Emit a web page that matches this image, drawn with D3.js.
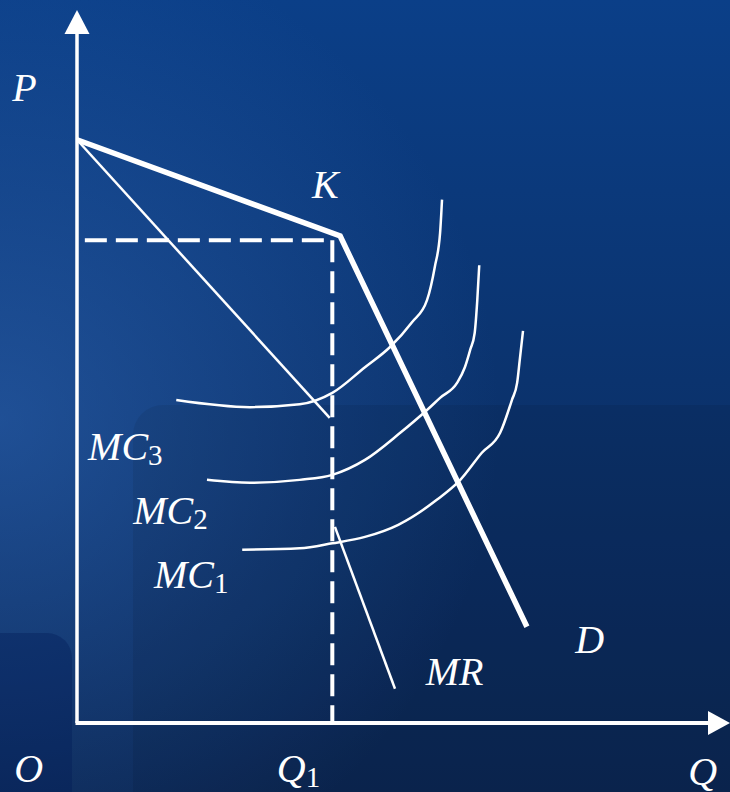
<!DOCTYPE html>
<html>
<head>
<meta charset="utf-8">
<script src="https://cdn.jsdelivr.net/npm/d3@7"></script>
<style>
    body { margin: 0; padding: 0; background: #0b3d85; overflow: hidden; }
    #chart-area { width: 730px; height: 792px; }
</style>
</head>
<body>
<div id="chart-area"></div>
<script>

// demand curve (kinked at K), quantity / price in chart units 0-100
let demandQ = [0, 40.3, 68.9];
let demandP = [81.8, 68.3, 13.5];

// marginal revenue: upper piece and lower piece (gap at Q1)
let mrUpperQ = [0, 38.7];
let mrUpperP = [81.8, 42.8];
let mrLowerQ = [39.5, 48.7];
let mrLowerP = [27.5, 4.8];

// equilibrium
let q1 = 39.1;
let p1 = 67.7;

// marginal cost curves
let mc3Q = [15.2, 26.5, 34.1, 39.1, 44.1, 47.9, 51.3, 53.6, 54.8, 55.6, 55.9];
let mc3P = [45.3, 44.3, 44.7, 46.3, 49.9, 52.7, 56.2, 59.3, 64.0, 68.7, 73.4];

let mc2Q = [19.9, 26.5, 34.1, 39.1, 44.1, 49.5, 53.6, 55.6, 58.2, 59.4, 60.2, 60.9, 61.3, 61.6];
let mc2P = [34.1, 33.7, 34.1, 34.8, 36.9, 40.7, 43.9, 45.6, 47.7, 49.9, 52.3, 54.7, 59.3, 64.2];

let mc1Q = [25.3, 34.1, 39.1, 44.1, 49.2, 55.1, 58.7, 62.0, 64.8, 66.6, 67.4, 67.8, 68.3];
let mc1P = [24.3, 24.5, 25.2, 26.1, 27.8, 31.3, 34.1, 37.9, 40.7, 45.3, 47.7, 50.9, 55.0];

// labels
let labelText = ["P", "K", "MC", "MC", "MC", "D", "MR", "O", "Q", "Q"];
let labelSub = ["", "", "3", "2", "1", "", "", "", "1", ""];


class KinkedDemandVis {

    constructor(parentElement){
        this.parentElement = parentElement;
        this.initVis();
    }

    initVis(){
        let vis = this;

        vis.width = 730;
        vis.height = 792;

        vis.svg = d3.select("#" + vis.parentElement).append("svg")
            .attr("width", vis.width)
            .attr("height", vis.height);

        vis.drawBackground();

        // scales, origin of the axes sits at (77, 723)
        vis.x = d3.scaleLinear().domain([0, 100]).range([77, 730]);
        vis.y = d3.scaleLinear().domain([0, 100]).range([723, 10]);

        vis.line = d3.line()
            .x(d => vis.x(d.q))
            .y(d => vis.y(d.p));

        vis.curve = d3.line()
            .x(d => vis.x(d.q))
            .y(d => vis.y(d.p))
            .curve(d3.curveMonotoneX);

        vis.wrangleData();
    }

    drawBackground(){
        let vis = this;
        let defs = vis.svg.append("defs");

        let base = defs.append("linearGradient")
            .attr("id", "bgBase")
            .attr("x1", 0).attr("y1", 0).attr("x2", 0).attr("y2", 1);
        base.append("stop").attr("offset", "0%").attr("stop-color", "#0b3f88");
        base.append("stop").attr("offset", "100%").attr("stop-color", "#0b2652");

        let glow = defs.append("radialGradient")
            .attr("id", "bgGlow")
            .attr("gradientUnits", "userSpaceOnUse")
            .attr("cx", 0).attr("cy", 420).attr("r", 500);
        glow.append("stop").attr("offset", "0%").attr("stop-color", "#3068b8").attr("stop-opacity", 0.55);
        glow.append("stop").attr("offset", "100%").attr("stop-color", "#3068b8").attr("stop-opacity", 0);

        vis.svg.append("rect")
            .attr("width", vis.width).attr("height", vis.height)
            .attr("fill", "url(#bgBase)");
        vis.svg.append("rect")
            .attr("width", vis.width).attr("height", vis.height)
            .attr("fill", "url(#bgGlow)");

        // faint rounded panels of the slide template
        vis.svg.append("rect")
            .attr("x", 133).attr("y", 405).attr("width", 700).attr("height", 500)
            .attr("rx", 30)
            .attr("fill", "#000").attr("opacity", 0.07);
        vis.svg.append("rect")
            .attr("x", -30).attr("y", 633).attr("width", 102).attr("height", 200)
            .attr("rx", 25)
            .attr("fill", "#001a55").attr("opacity", 0.35);
    }

    wrangleData(){
        let vis = this;

        let zip = (qs, ps) => qs.map((q, i) => ({q: q, p: ps[i]}));

        vis.demand = zip(demandQ, demandP);
        vis.mrUpper = zip(mrUpperQ, mrUpperP);
        vis.mrLower = zip(mrLowerQ, mrLowerP);
        vis.mcCurves = [zip(mc3Q, mc3P), zip(mc2Q, mc2P), zip(mc1Q, mc1P)];

        vis.dashed = [
            [{q: 1.2, p: p1}, {q: q1, p: p1}],
            [{q: q1, p: p1}, {q: q1, p: 0}]
        ];

        // label anchors (left edge / baseline) in chart units
        let labelQ = [-9.9, 36.0, 1.7, 8.6, 11.8, 76.3, 53.4, -9.6, 30.6, 93.6];
        let labelP = [87.2, 73.7, 36.9, 27.9, 18.9, 9.8, 5.3, -8.3, -8.3, -8.7];
        vis.labels = labelText.map((t, i) => ({text: t, sub: labelSub[i], q: labelQ[i], p: labelP[i]}));

        vis.updateVis();
    }

    updateVis(){
        let vis = this;

        // axes
        vis.svg.append("line")
            .attr("x1", vis.x(0)).attr("y1", vis.y(0))
            .attr("x2", vis.x(0)).attr("y2", vis.y(100) + 20)
            .attr("stroke", "#fff").attr("stroke-width", 3.5);
        vis.svg.append("line")
            .attr("x1", vis.x(0) - 1.5).attr("y1", vis.y(0))
            .attr("x2", vis.x(100) - 20).attr("y2", vis.y(0))
            .attr("stroke", "#fff").attr("stroke-width", 4);

        let ax = vis.x(0), ay = vis.y(100);
        vis.svg.append("path")
            .attr("d", `M${ax},${ay} L${ax - 12.5},${ay + 24} L${ax + 12.5},${ay + 24} Z`)
            .attr("fill", "#fff");
        let bx = vis.x(100), by = vis.y(0);
        vis.svg.append("path")
            .attr("d", `M${bx},${by} L${bx - 22},${by - 12} L${bx - 22},${by + 12} Z`)
            .attr("fill", "#fff");

        // dashed guides
        vis.svg.selectAll(".guide")
            .data(vis.dashed)
            .join("path")
            .attr("class", "guide")
            .attr("d", vis.line)
            .attr("fill", "none")
            .attr("stroke", "#fff")
            .attr("stroke-width", 4)
            .attr("stroke-dasharray", "22,9");

        // marginal cost curves
        vis.svg.selectAll(".mc")
            .data(vis.mcCurves)
            .join("path")
            .attr("class", "mc")
            .attr("d", vis.curve)
            .attr("fill", "none")
            .attr("stroke", "#fff")
            .attr("stroke-width", 2.5);

        // marginal revenue
        vis.svg.selectAll(".mr")
            .data([vis.mrUpper, vis.mrLower])
            .join("path")
            .attr("class", "mr")
            .attr("d", vis.line)
            .attr("fill", "none")
            .attr("stroke", "#fff")
            .attr("stroke-width", 2.5);

        // kinked demand
        vis.svg.append("path")
            .datum(vis.demand)
            .attr("d", vis.line)
            .attr("fill", "none")
            .attr("stroke", "#fff")
            .attr("stroke-width", 5.5);

        // labels
        let txt = vis.svg.selectAll(".lbl")
            .data(vis.labels)
            .join("text")
            .attr("class", "lbl")
            .attr("x", d => vis.x(d.q))
            .attr("y", d => vis.y(d.p))
            .attr("font-family", "Liberation Serif")
            .attr("font-style", "italic")
            .attr("font-size", 40)
            .attr("fill", "#fff");
        txt.append("tspan").text(d => d.text);
        txt.filter(d => d.sub !== "")
            .append("tspan")
            .attr("dy", 5)
            .attr("font-style", "normal")
            .attr("font-size", 29)
            .text(d => d.sub);
    }
}

new KinkedDemandVis("chart-area");

</script>
</body>
</html>
